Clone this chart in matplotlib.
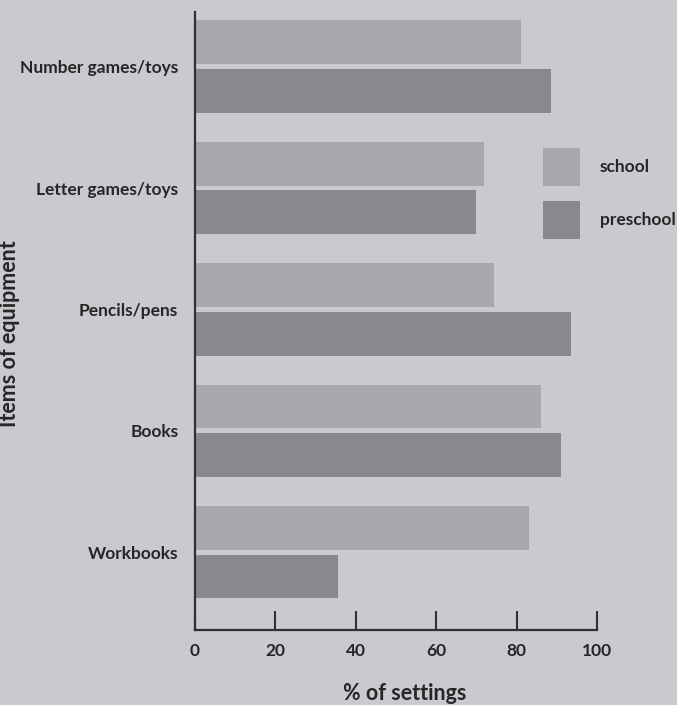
import matplotlib
matplotlib.use("Agg")
import matplotlib.pyplot as plt
import numpy as np
from matplotlib.patches import Rectangle

categories = ["Number games/toys", "Letter games/toys", "Pencils/pens", "Books", "Workbooks"]
school = [81, 72, 74.5, 86, 83]
preschool = [88.5, 70, 93.5, 91, 35.5]
xticks = [0, 20, 40, 60, 80, 100]
series_names = ["school", "preschool"]

bg = "#c9cacf"
c_school = "#a8a9ad"
c_pre = "#88898d"
txt = "#262626"

plt.rcParams['font.family'] = ['Lato', 'DejaVu Sans']
plt.rcParams['font.weight'] = 'bold'

W, H = 677, 705
fig = plt.figure(figsize=(W/100, H/100), dpi=100, facecolor=bg)
ax = fig.add_axes([195/W, 1-630/H, (597-195)/W, (630-12)/H])
ax.set_facecolor(bg)

y = np.arange(len(categories))
h = 0.36
ax.barh(y - 0.2, school, height=h, color=c_school, label=series_names[0])
ax.barh(y + 0.2, preschool, height=h, color=c_pre, label=series_names[1])

ax.set_xlim(0, 100)
ax.set_ylim(4.64, -0.45)
ax.set_xticks(xticks)
ax.set_xticklabels([str(t) for t in xticks])
ax.set_yticks(y)
ax.set_yticklabels(categories)

for s in ["top", "right"]:
    ax.spines[s].set_visible(False)
for s in ["left", "bottom"]:
    ax.spines[s].set_color("#303030")
    ax.spines[s].set_linewidth(1.6)

ax.tick_params(axis='x', direction='in', length=14, width=1.5, color="#303030",
               pad=9, labelsize=12.5, labelcolor=txt)
ax.tick_params(axis='y', length=0, pad=12, labelsize=12.5, labelcolor=txt)

ax.set_xlabel("% of settings", fontsize=15.5, color=txt, fontweight='bold')
ax.xaxis.set_label_coords((405-195)/402, -(693-630)/618)
ax.xaxis.label.set_va('center')
ax.set_ylabel("Items of equipment", fontsize=15.5, color=txt, fontweight='bold', labelpad=0)
ax.yaxis.set_label_coords(-(195-20)/402, (630-334)/618)

# legend (manual, figure pixel positions)
leg_items = [(series_names[0], c_school, 148), (series_names[1], c_pre, 201)]
for name, col, top in leg_items:
    fig.add_artist(Rectangle((543/W, 1-(top+38)/H), 37/W, 38/H,
                             transform=fig.transFigure, facecolor=col, edgecolor='none'))
    fig.text(600/W, 1-(top+19)/H, name, fontsize=12.5, color=txt, fontweight='bold',
             va='center', ha='left')

fig.savefig("out.png", dpi=100, facecolor=bg)
